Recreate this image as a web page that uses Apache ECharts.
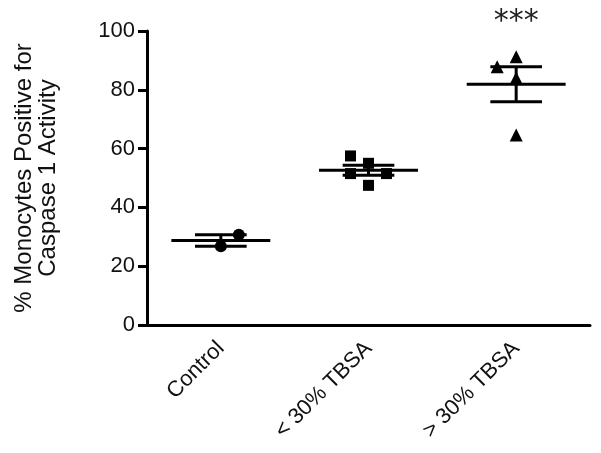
<!DOCTYPE html>
<html>
<head>
<meta charset="utf-8">
<script src="https://cdn.jsdelivr.net/npm/echarts@6/dist/echarts.min.js"></script>
<style>html,body{margin:0;padding:0;background:#fff}#c{width:601px;height:453px}</style>
</head>
<body>
<div id="c"></div>
<script>
var categories = ['Control', '< 30% TBSA', '> 30% TBSA'];
var controlValues = [26.8, 30.7];
var lowTbsaValues = [57.5, 55.0, 51.5, 51.5, 47.5];
var highTbsaValues = [91.2, 87.8, 84.0, 64.6];
var yTicks = [0, 20, 40, 60, 80, 100];
var significance = '***';

// horizontal jitter (pixels) for overlapping points, styling only
var jitter = [[0, 18], [-18, 0, -18, 18, 0], [0, -19, 0, 0]];
var symbols = ['circle', 'rect', 'triangle'];
var symbolSizes = [12, 11, 13];

var groups = [controlValues, lowTbsaValues, highTbsaValues];

function stats(arr) {
  var n = arr.length, m = arr.reduce(function (a, b) { return a + b; }, 0) / n;
  var v = arr.reduce(function (a, b) { return a + (b - m) * (b - m); }, 0) / (n - 1);
  var sem = Math.sqrt(v) / Math.sqrt(n);
  return [m, m - sem, m + sem];
}

var summary = groups.map(function (g, i) { var s = stats(g); return [i, s[0], s[1], s[2]]; });

var series = groups.map(function (g, gi) {
  return {
    type: 'scatter',
    symbol: symbols[gi],
    symbolSize: symbolSizes[gi],
    itemStyle: { color: '#000', opacity: 1 },
    z: 3,
    data: g.map(function (v, i) {
      return { value: [gi, v], symbolOffset: [jitter[gi][i], 0] };
    })
  };
});

series.push({
  type: 'custom',
  z: 2,
  data: summary,
  encode: { x: 0, y: 1 },
  renderItem: function (params, api) {
    var x = api.value(0);
    var c = api.coord([x, api.value(1)]);
    var lo = api.coord([x, api.value(2)]);
    var hi = api.coord([x, api.value(3)]);
    var band = api.size([1, 0])[0];
    var mw = band * 0.335, sw = band * 0.175;
    var st = { stroke: '#000', lineWidth: 3 };
    return {
      type: 'group',
      children: [
        { type: 'line', shape: { x1: c[0] - mw, y1: c[1], x2: c[0] + mw, y2: c[1] }, style: st },
        { type: 'line', shape: { x1: c[0] - sw, y1: lo[1], x2: c[0] + sw, y2: lo[1] }, style: st },
        { type: 'line', shape: { x1: c[0] - sw, y1: hi[1], x2: c[0] + sw, y2: hi[1] }, style: st },
        { type: 'line', shape: { x1: c[0], y1: lo[1], x2: c[0], y2: hi[1] }, style: st }
      ]
    };
  }
});

var chart = echarts.init(document.getElementById('c'));
var font = 'Liberation Sans, Arial, Helvetica, sans-serif';
chart.setOption({
  animation: false,
  backgroundColor: '#fff',
  textStyle: { fontFamily: font },
  grid: { left: 147, right: 11, top: 31, bottom: 128, containLabel: false },
  xAxis: {
    type: 'category',
    data: categories,
    boundaryGap: true,
    axisLine: { lineStyle: { color: '#000', width: 3 } },
    axisTick: { alignWithLabel: true, length: 9, lineStyle: { color: '#000', width: 3 } },
    axisLabel: { rotate: 45, color: '#111', fontSize: 22, fontFamily: font, margin: 20, interval: 0 },
    splitLine: { show: false }
  },
  yAxis: {
    type: 'value',
    min: yTicks[0],
    max: yTicks[yTicks.length - 1],
    interval: yTicks[1] - yTicks[0],
    name: '% Monocytes Positive for\nCaspase 1 Activity',
    nameLocation: 'middle',
    nameRotate: 90,
    nameGap: 87,
    nameTextStyle: { color: '#111', fontSize: 24, fontFamily: font, lineHeight: 24, align: 'center' },
    axisLine: { show: true, lineStyle: { color: '#000', width: 3 } },
    axisTick: { show: true, length: 9, lineStyle: { color: '#000', width: 3 } },
    axisLabel: { color: '#111', fontSize: 22, fontFamily: font, margin: 12 },
    splitLine: { show: false }
  },
  series: series
});

var p = chart.convertToPixel({ xAxisIndex: 0, yAxisIndex: 0 }, [2, 100]);
chart.setOption({
  graphic: [{
    type: 'text',
    x: p[0],
    y: 22,
    style: { text: significance, fontSize: 30, fontFamily: 'DejaVu Sans, sans-serif', fill: '#222', letterSpacing: 4, align: 'center', verticalAlign: 'middle' }
  }]
});
</script>
</body>
</html>
